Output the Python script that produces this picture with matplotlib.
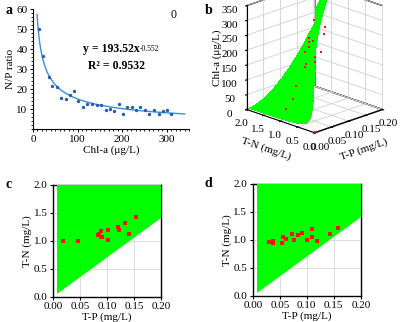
import numpy as np
import matplotlib
matplotlib.use("Agg")
import matplotlib.pyplot as plt
from matplotlib.ticker import MultipleLocator

plt.rcParams['font.family'] = ['Liberation Serif', 'DejaVu Serif']
plt.rcParams['font.size'] = 8

# --- panel a: N/P ratio vs Chl-a
chl = [14, 23, 35, 42, 54, 63, 73, 84, 92, 101, 113, 122, 132, 143, 152,
       163, 172, 182, 192, 202, 211, 221, 230, 241, 251, 260, 271, 282, 292, 301, 310]
np_ratio = [50.3, 36.7, 26.0, 21.7, 21.3, 15.7, 15.2, 17.2, 19.0, 14.0, 11.3, 12.5, 12.5, 12.2, 12.2,
            9.5, 10.2, 9.2, 12.5, 7.5, 11.3, 11.3, 9.7, 11.3, 9.5, 7.5, 9.5, 7.5, 9.0, 9.5, 7.5]
fit_a, fit_b = 193.52, -0.552
fit_r2 = 0.9532

# --- panel b: observed points (T-P, T-N, Chl-a)
b_tp = [0.0975, 0.152, 0.149, 0.0825, 0.0825, 0.105, 0.0825, 0.0705, 0.122, 0.149,
        0.112, 0.0755, 0.0725, 0.0455, 0.0355, 0.0155, 0.002]
b_tn = [1.0, 1.2, 1.2, 1.0, 1.0, 1.1, 1.0, 1.0, 1.2, 1.3,
        1.1, 1.0, 1.0, 1.0, 1.0, 1.0, 0.02]
b_chl = [303, 251, 229, 249, 233, 225, 218, 205, 160, 162,
         152, 163, 154, 101, 62, 35, 0]

# bounds of the green (feasible) region
tp_min, tp_max, tn_max = 0.008, 0.2, 2.0
ratio_min = 7

# --- panel c
c_tp = [0.0185, 0.046, 0.084, 0.0855, 0.0886, 0.089, 0.091, 0.1015, 0.1015, 0.121, 0.122, 0.1335, 0.14, 0.1545]
c_tn = [0.997, 1.003, 1.098, 1.12, 1.176, 1.07, 1.075, 1.2, 1.009, 1.248, 1.2, 1.325, 1.12, 1.43]

# --- panel d
d_tp = [0.030, 0.038, 0.038, 0.0535, 0.055, 0.0615, 0.072, 0.076, 0.083, 0.092,
        0.101, 0.1095, 0.110, 0.119, 0.143, 0.1575]
d_tn = [0.964, 0.982, 0.94, 0.946, 1.06, 1.024, 1.107, 0.994, 1.095, 1.125,
        1.006, 1.06, 1.19, 0.976, 1.113, 1.208]

GREEN = '#00ff00'
RED = '#ff1010'

fig = plt.figure(figsize=(4, 3.22), dpi=100)

# ---------------- a
ax = fig.add_axes([0.0825, 0.598, 0.39, 0.373])
xx = np.linspace(9, 340, 300)
ax.plot(xx, fit_a * xx ** fit_b, color='#3a8ede', lw=1.0)
ax.scatter(chl, np_ratio, s=6, color='#2a5db0', zorder=3, linewidths=0)
ax.set_xlim(0, 350)
ax.set_ylim(0, 60)
ax.set_xticks([0, 100, 200, 300])
ax.set_yticks([10, 20, 30, 40, 50, 60])
ax.xaxis.set_minor_locator(MultipleLocator(10))
ax.yaxis.set_minor_locator(MultipleLocator(2))
ax.tick_params(which='major', length=2.5, width=0.7, pad=1.5)
ax.tick_params(which='minor', length=1.2, width=0.6)
ax.spines['top'].set_visible(False)
ax.spines['right'].set_visible(False)
ax.set_xlabel('Chl-a (μg/L)', labelpad=1)
ax.set_ylabel('N/P ratio', labelpad=1)
eq = ax.text(112, 40, 'y = 193.52x', fontweight='bold', fontsize=8.5, va='center')
ax.annotate('%.3f' % fit_b, xy=(1, 1), xycoords=eq, xytext=(0.3, -1.5),
            textcoords='offset points', fontsize=5.5, va='top', ha='left')
ax.text(124, 31.5, 'R² = %.4f' % fit_r2, fontweight='bold', fontsize=8.5, va='center')
ax.text(308, 57, '0', fontsize=8.5, va='center')
fig.text(0.015, 0.955, 'a', fontsize=10, fontweight='bold')

# ---------------- b
ax3 = fig.add_axes([0.512, 0.55, 0.5375, 0.528], projection='3d', proj_type='ortho',
                   computed_zorder=False)
tp_grid = np.linspace(tp_min, tp_max, 120)
frac = np.linspace(0, 1, 80) ** 2
TP, F = np.meshgrid(tp_grid, frac)
TN = ratio_min * TP + F * (tn_max - ratio_min * TP)
Z = (TN / TP / fit_a) ** (1.0 / fit_b)
ax3.plot_surface(TP, TN, Z, color=GREEN, shade=False, linewidth=0, antialiased=False)
ax3.scatter(b_tp, b_tn, b_chl, s=4, color=RED, marker='s', depthshade=False, linewidths=0)
ax3.set_xlim(0, 0.2)
ax3.set_ylim(0, 2.0)
ax3.set_zlim(0, 350)
ax3.set_box_aspect((1, 1, 1.15))
ax3.view_init(elev=20, azim=-135)
ax3.set_xticks([0, 0.05, 0.1, 0.15, 0.2])
ax3.set_xticklabels(['0.00', '0.05', '0.10', '0.15', '0.20'])
ax3.set_yticks([0, 0.5, 1.0, 1.5, 2.0])
ax3.set_yticklabels(['0.0', '0.5', '1.0', '1.5', '2.0'])
ax3.set_zticks(range(0, 351, 50))
for axis in (ax3.xaxis, ax3.yaxis, ax3.zaxis):
    axis.set_pane_color((1, 1, 1, 1))
    axis.pane.set_edgecolor('black')
    axis._axinfo['grid']['color'] = '#d0d0d0'
    axis._axinfo['grid']['linewidth'] = 0.6
    axis.line.set_linewidth(0.8)
ax3.tick_params(axis='x', pad=-3, labelsize=8)
ax3.tick_params(axis='y', pad=-3, labelsize=8)
ax3.tick_params(axis='z', pad=0, labelsize=8)
ax3.set_xlabel('T-P (mg/L)', labelpad=-7)
ax3.set_ylabel('T-N (mg/L)', labelpad=-7)
ax3.set_zlabel('Chl-a (μg/L)', labelpad=-7)
fig.text(0.512, 0.955, 'b', fontsize=10, fontweight='bold')


# ---------------- c, d
def tri_panel(rect, tp, tn):
    a2 = fig.add_axes(rect)
    a2.grid(True, color='#d8d8d8', lw=0.6, zorder=0)
    a2.set_axisbelow(True)
    poly_x = [tp_min, tp_min, tp_max, tp_max]
    poly_y = [ratio_min * tp_min, tn_max, tn_max, ratio_min * tp_max]
    a2.fill(poly_x, poly_y, color=GREEN, lw=0, zorder=2.6)
    a2.scatter(tp, tn, s=5, color=RED, marker='s', linewidths=0, zorder=4)
    a2.set_xlim(0, 0.2)
    a2.set_ylim(0, 2.0)
    a2.set_xticks([0, 0.05, 0.1, 0.15, 0.2])
    a2.set_xticklabels(['0.00', '0.05', '0.10', '0.15', '0.20'])
    a2.set_yticks([0, 0.5, 1.0, 1.5, 2.0])
    a2.set_yticklabels(['0.0', '0.5', '1.0', '1.5', '2.0'])
    a2.tick_params(length=2.5, width=0.8, pad=1.5)
    for sp in a2.spines.values():
        sp.set_linewidth(1.0)
    a2.set_xlabel('T-P (mg/L)', labelpad=1)
    a2.set_ylabel('T-N (mg/L)', labelpad=1)
    return a2


tri_panel([0.1325, 0.078, 0.27, 0.348], c_tp, c_tn)
fig.text(0.015, 0.415, 'c', fontsize=10, fontweight='bold')
tri_panel([0.632, 0.081, 0.27, 0.348], d_tp, d_tn)
fig.text(0.512, 0.42, 'd', fontsize=10, fontweight='bold')

fig.savefig('out.png', dpi=100)
